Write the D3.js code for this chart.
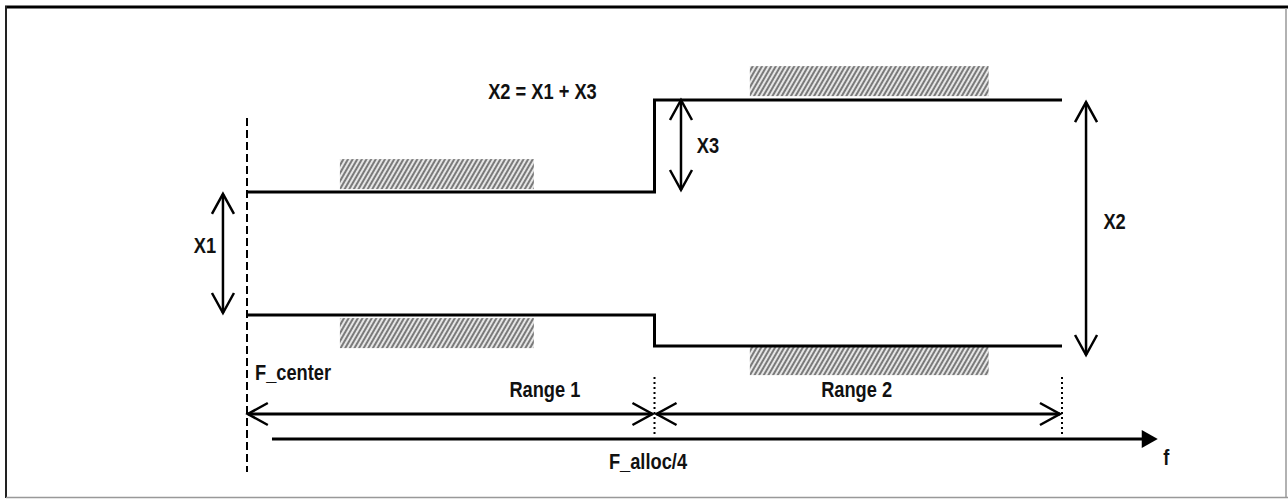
<!DOCTYPE html>
<html>
<head>
<meta charset="utf-8">
<script src="https://cdn.jsdelivr.net/npm/d3@7"></script>
<style>
  html, body { margin: 0; padding: 0; background: #fff; }
  svg { display: block; }
  .lbl { font-family: "Liberation Sans", Arial, sans-serif; font-weight: 700; font-size: 22px; fill: #111; }
</style>
</head>
<body>
<div id="chart"></div>
<script>
// frequency axis in units of one range (0 = F_center), level axis in arbitrary units
const maskFreq = [0, 1, 1, 2];
const maskUpper = [69.3, 69.3, 100, 100];
const maskLower = [28.3, 28.3, 18, 18];

const hatchBands = [
  { f0: 0.228, f1: 0.704, v0: 70.3, v1: 80.3 },
  { f0: 0.228, f1: 0.704, v0: 17.3, v1: 27.3 },
  { f0: 1.234, f1: 1.820, v0: 101.3, v1: 111.3 },
  { f0: 1.234, f1: 1.820, v0: 8.3, v1: 17.7 }
];

const dimArrows = [
  { name: "X1", f: -0.059, v0: 68.7, v1: 29 },
  { name: "X3", f: 1.065, v0: 100, v1: 70 },
  { name: "X2", f: 2.059, v0: 99.3, v1: 15 }
];

const rangeArrows = [
  { name: "Range 1", f0: 0.002, f1: 0.995, v: -4.67 },
  { name: "Range 2", f0: 1.005, f1: 1.995, v: -4.67 }
];

const labels = [
  { text: "X2 = X1 + X3", f: 0.725, v: 100.3, anchor: "middle" },
  { text: "X1", f: -0.103, v: 49, anchor: "middle" },
  { text: "X3", f: 1.131, v: 82.3, anchor: "middle" },
  { text: "X2", f: 2.129, v: 57, anchor: "middle" },
  { text: "F_center", f: 0.0196, v: 6.67, anchor: "start" },
  { text: "Range 1", f: 0.731, v: 1, anchor: "middle" },
  { text: "Range 2", f: 1.496, v: 1, anchor: "middle" },
  { text: "F_alloc/4", f: 0.984, v: -23, anchor: "middle" },
  { text: "f", f: 2.256, v: -21.7, anchor: "middle" }
];

const axisSpan = [0.0613, 2.235];
const axisLevel = -13;
const centerLine = [94, -24];
const rangeMarks = [1, 2];
const rangeMarkSpan = [7.67, -11.67];

const width = 1288, height = 499;
const narrow = 0.83; // condensed look of the original lettering

const x = d3.scaleLinear().domain([0, 2]).range([247, 1062]);
const y = d3.scaleLinear().domain([0, 100]).range([400, 100]);

const svg = d3.select("#chart").append("svg")
  .attr("width", width)
  .attr("height", height);

const defs = svg.append("defs");
const pat = defs.append("pattern")
  .attr("id", "hatch")
  .attr("patternUnits", "userSpaceOnUse")
  .attr("width", 4)
  .attr("height", 4)
  .attr("patternTransform", "rotate(30)");
pat.append("rect").attr("width", 4).attr("height", 4).attr("fill", "#e6e6e6");
pat.append("line")
  .attr("x1", 1).attr("y1", 0).attr("x2", 1).attr("y2", 4)
  .attr("stroke", "#7a7a7a").attr("stroke-width", 2);

// frame
svg.append("line").attr("x1", 5).attr("x2", width).attr("y1", 7).attr("y2", 7)
  .attr("stroke", "#000").attr("stroke-width", 3);
svg.append("line").attr("x1", 6).attr("x2", 6).attr("y1", 6).attr("y2", 498)
  .attr("stroke", "#222").attr("stroke-width", 2);
svg.append("line").attr("x1", 6).attr("x2", width).attr("y1", 497.5).attr("y2", 497.5)
  .attr("stroke", "#999").attr("stroke-width", 1.5);
svg.append("line").attr("x1", 1286).attr("x2", 1286).attr("y1", 8).attr("y2", 498)
  .attr("stroke", "#999").attr("stroke-width", 1.5);

// hatched bands
svg.selectAll(".band")
  .data(hatchBands)
  .enter()
  .append("rect")
  .attr("class", "band")
  .attr("x", d => x(d.f0))
  .attr("y", d => y(d.v1))
  .attr("width", d => x(d.f1) - x(d.f0))
  .attr("height", d => y(d.v0) - y(d.v1))
  .attr("fill", "url(#hatch)");

// mask levels
const line = d3.line().x(d => x(d[0])).y(d => y(d[1]));
[maskUpper, maskLower].forEach(levels => {
  svg.append("path")
    .attr("d", line(maskFreq.map((f, i) => [f, levels[i]])))
    .attr("fill", "none")
    .attr("stroke", "#000")
    .attr("stroke-width", 3);
});

// F_center dashed line
svg.append("line")
  .attr("x1", x(0)).attr("x2", x(0))
  .attr("y1", y(centerLine[0])).attr("y2", y(centerLine[1]))
  .attr("stroke", "#000").attr("stroke-width", 2)
  .attr("stroke-dasharray", "8,4");

// dotted range marks
svg.selectAll(".mark")
  .data(rangeMarks)
  .enter()
  .append("line")
  .attr("x1", d => x(d)).attr("x2", d => x(d))
  .attr("y1", y(rangeMarkSpan[0])).attr("y2", y(rangeMarkSpan[1]))
  .attr("stroke", "#000").attr("stroke-width", 2)
  .attr("stroke-dasharray", "2,3");

const chevron = (tx, ty, dx, dy) => {
  // open arrowhead pointing along (dx, dy)
  const len = 20, half = 11;
  const px = -dy, py = dx;
  return `M${tx - dx * len + px * half},${ty - dy * len + py * half}L${tx},${ty}L${tx - dx * len - px * half},${ty - dy * len - py * half}`;
};

// vertical dimension arrows
dimArrows.forEach(d => {
  const xx = x(d.f), ya = y(d.v0), yb = y(d.v1);
  svg.append("line")
    .attr("x1", xx).attr("x2", xx).attr("y1", ya).attr("y2", yb)
    .attr("stroke", "#000").attr("stroke-width", 2.5);
  svg.append("path")
    .attr("d", chevron(xx, ya, 0, -1) + chevron(xx, yb, 0, 1))
    .attr("fill", "none").attr("stroke", "#000").attr("stroke-width", 2.5);
});

// horizontal range arrows
rangeArrows.forEach(d => {
  const xa = x(d.f0), xb = x(d.f1), yy = y(d.v);
  svg.append("line")
    .attr("x1", xa).attr("x2", xb).attr("y1", yy).attr("y2", yy)
    .attr("stroke", "#000").attr("stroke-width", 3);
  svg.append("path")
    .attr("d", chevron(xa, yy, -1, 0) + chevron(xb, yy, 1, 0))
    .attr("fill", "none").attr("stroke", "#000").attr("stroke-width", 2.5);
});

// f axis with filled head
const ax0 = x(axisSpan[0]), ax1 = x(axisSpan[1]), ay = y(axisLevel);
svg.append("line")
  .attr("x1", ax0).attr("x2", ax1 - 12).attr("y1", ay).attr("y2", ay)
  .attr("stroke", "#000").attr("stroke-width", 3);
svg.append("path")
  .attr("d", `M${ax1},${ay}L${ax1 - 16},${ay - 9}L${ax1 - 16},${ay + 9}Z`)
  .attr("fill", "#000");

// labels
svg.selectAll(".lbl")
  .data(labels)
  .enter()
  .append("text")
  .attr("class", "lbl")
  .attr("transform", d => `translate(${x(d.f)},${y(d.v)}) scale(${narrow},1)`)
  .attr("text-anchor", d => d.anchor)
  .text(d => d.text);
</script>
</body>
</html>
